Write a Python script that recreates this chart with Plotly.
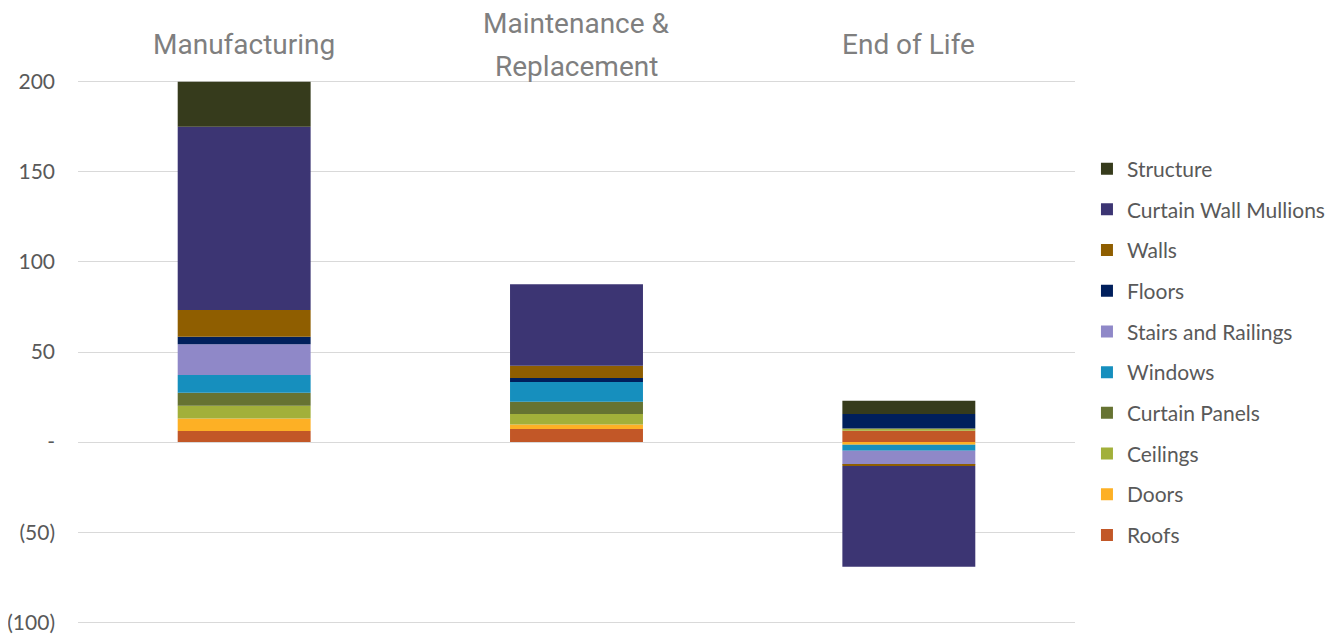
import plotly.graph_objects as go

categories = ["Manufacturing", "Maintenance &<br>Replacement", "End of Life"]

# stacking order bottom -> top
series_names = ["Roofs", "Doors", "Ceilings", "Curtain Panels", "Windows",
                "Stairs and Railings", "Floors", "Walls", "Curtain Wall Mullions", "Structure"]
roofs = [6.1, 7.2, 6.3]
doors = [7.0, 2.6, -1.5]
ceilings = [7.1, 5.8, 1.3]
curtain_panels = [7.2, 6.8, 0.0]
windows = [9.8, 10.9, -3.3]
stairs = [17.1, 0.0, -7.8]
floors = [4.2, 2.3, 8.0]
walls = [14.8, 6.8, -0.6]
mullions = [101.7, 45.2, -56.0]
structure = [25.0, 0.0, 7.4]

colors = ["#C25727", "#FDB025", "#A2B03A", "#667332", "#168FBE",
          "#8F88C8", "#001F5C", "#8F5E00", "#3C3573", "#363B1C"]

tick_vals = [-100, -50, 0, 50, 100, 150, 200]
tick_text = ["(100)", "(50)", "-", "50", "100", "150", "200"]

values = [roofs, doors, ceilings, curtain_panels, windows, stairs, floors, walls, mullions, structure]

fig = go.Figure()
n = len(series_names)
for i, (name, vals, col) in enumerate(zip(series_names, values, colors)):
    fig.add_trace(go.Bar(
        x=categories, y=vals, name=name, marker_color=col,
        marker_line_width=0, legendgroup=name, legendrank=n - i,
    ))

title_font = dict(family="Roboto, Liberation Sans", size=28, color="#7F7F7F")
line_gap = 43
for c in categories:
    lines = c.split("<br>")
    k = len(lines)
    for j, ln in enumerate(lines):
        off = (j - (k - 1) / 2) * line_gap
        fig.add_annotation(x=c, xref="x", y=1.0, yref="paper", yshift=34.3 - off,
                           text=ln, showarrow=False, yanchor="middle",
                           font=title_font)

fig.update_layout(
    width=1335, height=628,
    barmode="relative", bargap=0.6,
    plot_bgcolor="white", paper_bgcolor="white",
    margin=dict(l=70, r=268, t=71.3, b=11.3),
    showlegend=True,
    legend=dict(traceorder="grouped", tracegroupgap=10.4,
                x=1.012, xanchor="left", y=0.5, yanchor="middle",
                font=dict(family="Lato, Open Sans", size=21, color="#595959"),
                itemwidth=30),
    font=dict(family="Lato, Open Sans", color="#595959"),
)
fig.update_xaxes(showticklabels=False, showgrid=False, showline=False, zeroline=False,
                 automargin=False)
fig.update_yaxes(range=[-101.5, 201.5], tickvals=tick_vals, ticktext=tick_text,
                 showgrid=True, gridcolor="#D9D9D9", gridwidth=1,
                 zeroline=True, zerolinecolor="#D9D9D9", zerolinewidth=1,
                 ticklabelstandoff=22, automargin=False,
                 tickfont=dict(family="Lato, Open Sans", size=21, color="#595959"))

fig.write_html("out.html")
